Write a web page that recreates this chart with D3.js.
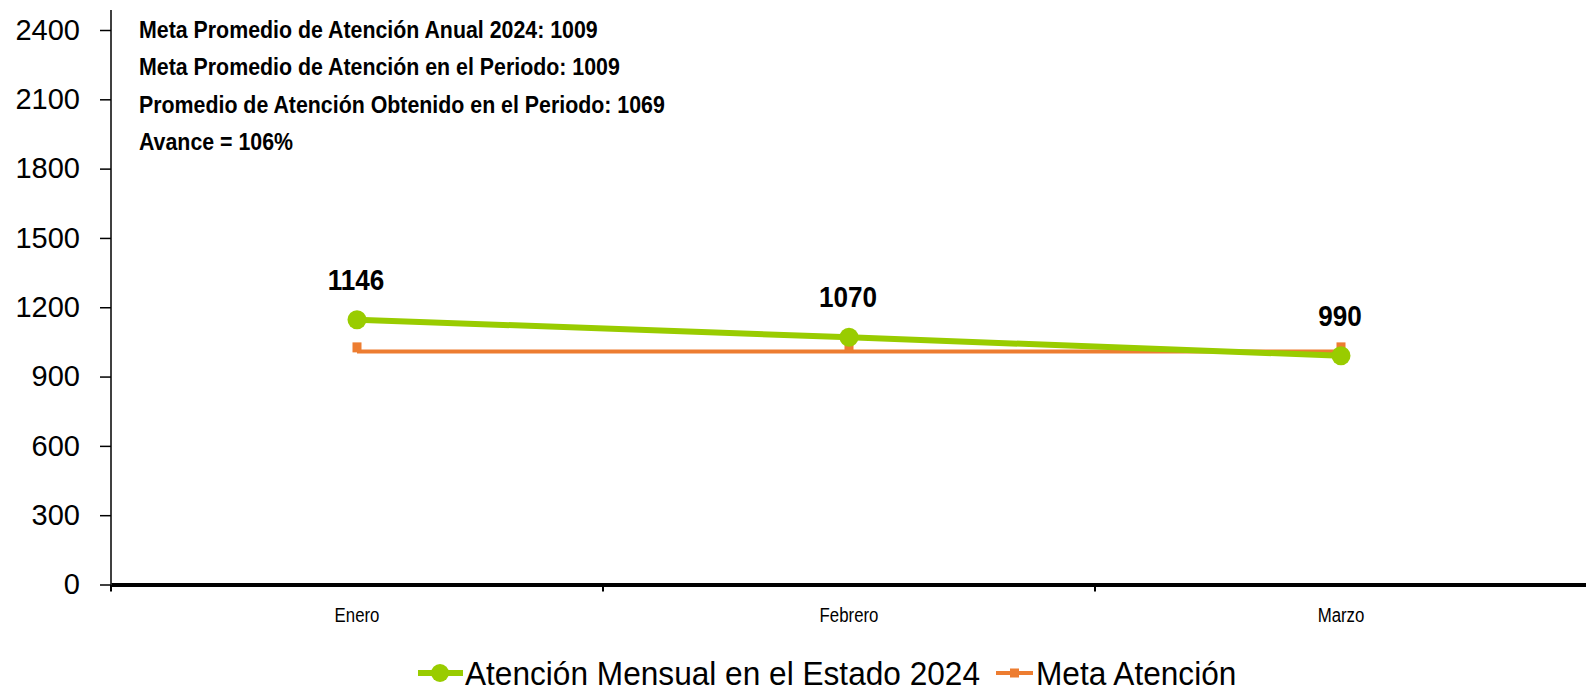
<!DOCTYPE html>
<html>
<head>
<meta charset="utf-8">
<script src="https://cdn.jsdelivr.net/npm/d3@7"></script>
<style>
  body { margin: 0; background: #fff; }
  svg { display: block; }
</style>
</head>
<body>
<div id="viz"></div>
<script>
const months = ["Enero", "Febrero", "Marzo"];
const atencion = [1146, 1070, 990];
const meta = [1009, 1009, 1009];
const yTicks = [0, 300, 600, 900, 1200, 1500, 1800, 2100, 2400];
const notes = [
  "Meta Promedio de Atención Anual 2024: 1009",
  "Meta Promedio de Atención en el Periodo: 1009",
  "Promedio de Atención Obtenido en el Periodo: 1069",
  "Avance = 106%"
];
const seriesNames = ["Atención Mensual en el Estado 2024", "Meta Atención"];

const W = 1586, H = 694;
const GREEN = "#99cc00", ORANGE = "#ed7d31";
const FONT = "'Liberation Sans', Arial, sans-serif";

const svg = d3.select("#viz").append("svg")
  .attr("width", W)
  .attr("height", H);

const x = d3.scaleBand().domain(months).range([111, 1587]);
const y = d3.scaleLinear().domain([0, 2400]).range([584.5, 30]);
const cx = d => x(d) + x.bandwidth() / 2;

// y axis
const yAxis = svg.append("g")
  .attr("transform", "translate(111,0)")
  .call(d3.axisLeft(y).tickValues(yTicks).tickFormat(d3.format("d"))
    .tickSize(11).tickPadding(20).tickSizeOuter(0));
yAxis.select(".domain").remove();
yAxis.selectAll("line").attr("stroke", "#000").attr("stroke-width", 1.5);
yAxis.selectAll("text")
  .attr("font-family", FONT)
  .attr("font-size", 29)
  .attr("fill", "#000");
svg.append("line")
  .attr("x1", 111).attr("x2", 111)
  .attr("y1", 10).attr("y2", y(0))
  .attr("stroke", "#000").attr("stroke-width", 1.5);

// x axis
const xAxis = svg.append("g")
  .attr("transform", `translate(0,${y(0)})`)
  .call(d3.axisBottom(x).tickSize(0).tickFormat(""));
xAxis.select(".domain").attr("stroke", "#000").attr("stroke-width", 4);
xAxis.selectAll(".sep")
  .data(d3.range(months.length + 1))
  .enter().append("line")
  .attr("class", "sep")
  .attr("x1", i => 111 + i * x.bandwidth())
  .attr("x2", i => 111 + i * x.bandwidth())
  .attr("y1", 0).attr("y2", 7)
  .attr("stroke", "#000").attr("stroke-width", 2);
svg.selectAll(".cat")
  .data(months)
  .enter().append("text")
  .attr("transform", d => `translate(${cx(d)},${y(0) + 37}) scale(0.8,1)`)
  .attr("text-anchor", "middle")
  .attr("font-family", FONT)
  .attr("font-size", 21)
  .attr("fill", "#000")
  .text(d => d);

// meta line
const line = d3.line().x((d, i) => cx(months[i])).y(d => y(d));
svg.append("path")
  .datum(meta)
  .attr("d", line)
  .attr("fill", "none")
  .attr("stroke", ORANGE)
  .attr("stroke-width", 4);
svg.selectAll(".metaMark")
  .data(meta)
  .enter().append("rect")
  .attr("x", (d, i) => cx(months[i]) - 4.5)
  .attr("y", d => y(d) - 9)
  .attr("width", 9).attr("height", 10)
  .attr("fill", ORANGE);

// atencion line
svg.append("path")
  .datum(atencion)
  .attr("d", line)
  .attr("fill", "none")
  .attr("stroke", GREEN)
  .attr("stroke-width", 6);
svg.selectAll(".atMark")
  .data(atencion)
  .enter().append("circle")
  .attr("cx", (d, i) => cx(months[i]))
  .attr("cy", d => y(d))
  .attr("r", 9.5)
  .attr("fill", GREEN);

// data labels
svg.selectAll(".lbl")
  .data(atencion)
  .enter().append("text")
  .attr("transform", (d, i) => `translate(${cx(months[i]) - 1},${y(d) - 30}) scale(0.9,1)`)
  .attr("text-anchor", "middle")
  .attr("font-family", FONT)
  .attr("font-weight", "bold")
  .attr("font-size", 29)
  .attr("fill", "#000")
  .text(d => d);

// notes
svg.selectAll(".note")
  .data(notes)
  .enter().append("text")
  .attr("transform", (d, i) => `translate(139,${38 + i * 37.3}) scale(0.89,1)`)
  .attr("font-family", FONT)
  .attr("font-weight", "bold")
  .attr("font-size", 24)
  .attr("fill", "#000")
  .text(d => d);

// legend
const leg = svg.append("g").attr("transform", "translate(0,673)");
leg.append("line").attr("x1", 418).attr("x2", 463).attr("y1", 0).attr("y2", 0)
  .attr("stroke", GREEN).attr("stroke-width", 6);
leg.append("circle").attr("cx", 440).attr("cy", 0).attr("r", 9).attr("fill", GREEN);
leg.append("text").attr("transform", "translate(465,12) scale(0.93,1)")
  .attr("font-family", FONT).attr("font-size", 34).attr("fill", "#000")
  .text(seriesNames[0]);
leg.append("line").attr("x1", 996).attr("x2", 1033).attr("y1", 0).attr("y2", 0)
  .attr("stroke", ORANGE).attr("stroke-width", 4);
leg.append("rect").attr("x", 1010).attr("y", -4.5).attr("width", 9).attr("height", 9).attr("fill", ORANGE);
leg.append("text").attr("transform", "translate(1036,12) scale(0.93,1)")
  .attr("font-family", FONT).attr("font-size", 34).attr("fill", "#000")
  .text(seriesNames[1]);
</script>
</body>
</html>
